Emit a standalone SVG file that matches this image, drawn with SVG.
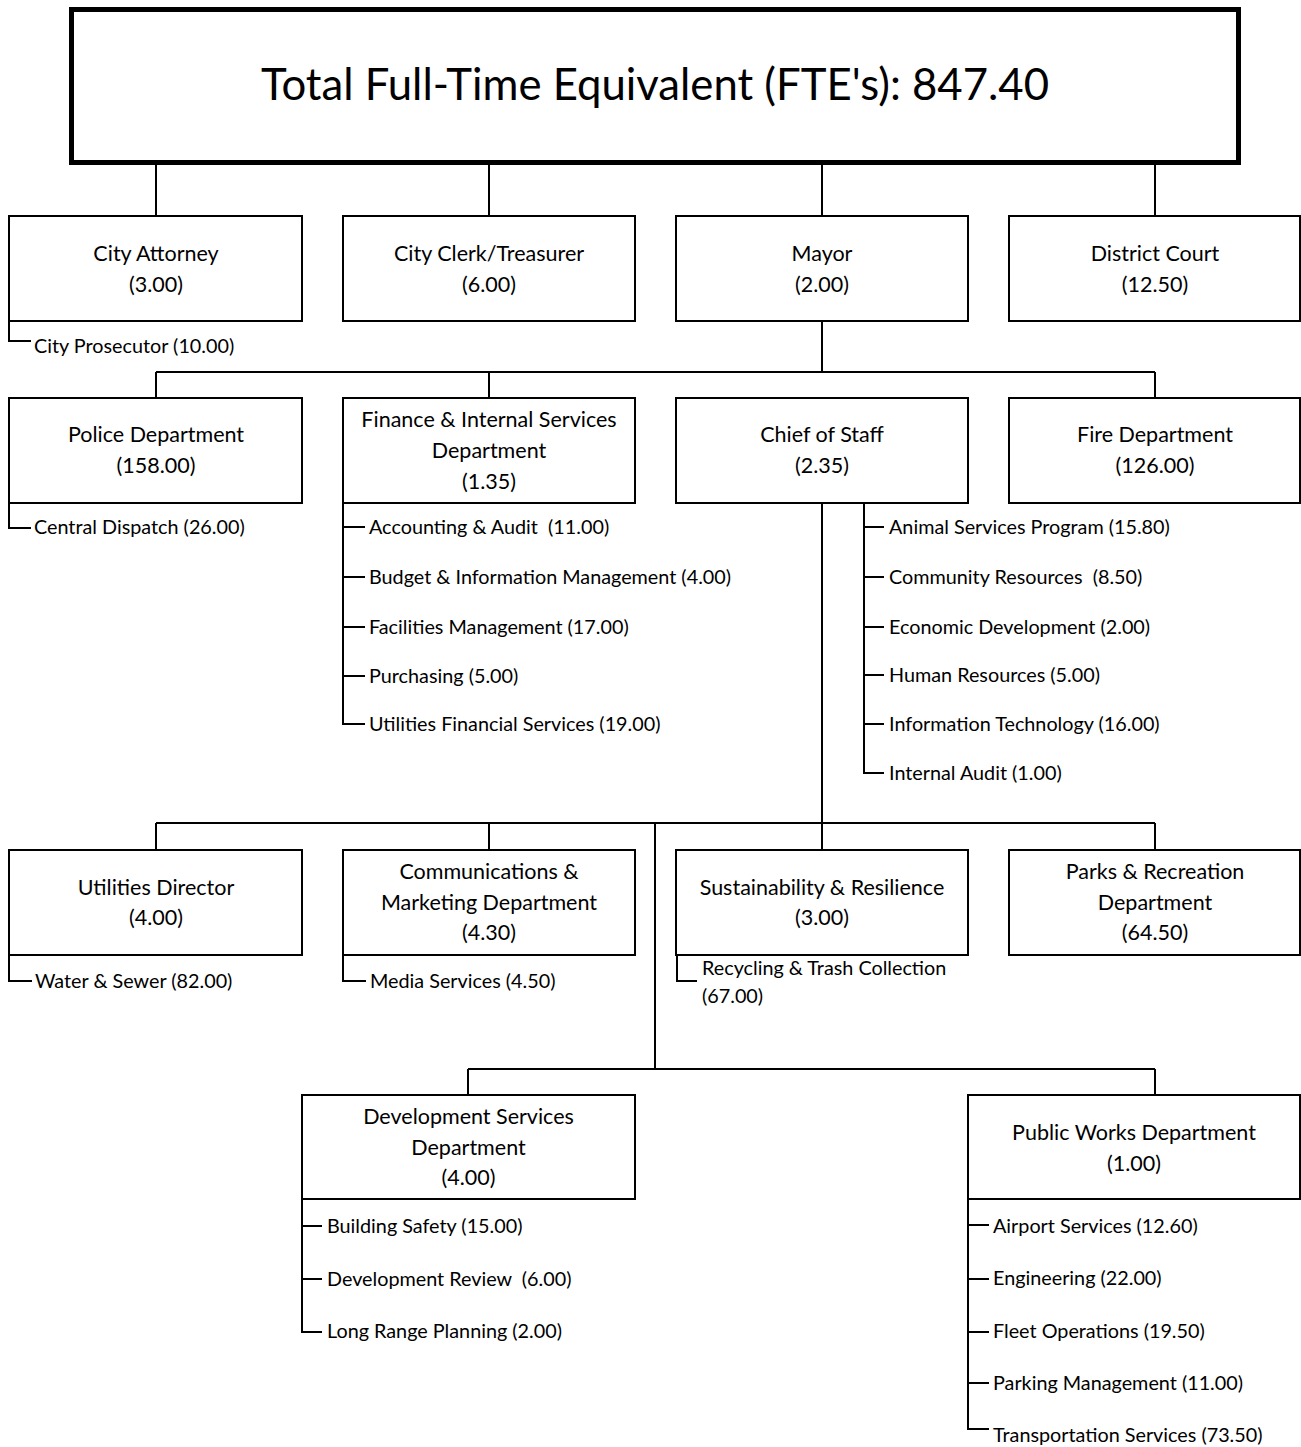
<svg xmlns="http://www.w3.org/2000/svg" width="1301" height="1447" viewBox="0 0 1301 1447">
  <style>
    .bg { fill: #ffffff; }
    .box { fill: #ffffff; stroke: #000000; stroke-width: 2; }
    .top { fill: #ffffff; stroke: #000000; stroke-width: 5; }
    .conn { fill: none; stroke: #000000; stroke-width: 2; }
    text { font-family: "Lato", "Open Sans", "Liberation Sans", sans-serif; fill: #000000; }
    .title { font-size: 43.7px; text-anchor: middle; }
    .lbl { font-size: 21.5px; text-anchor: middle; }
    .sub { font-size: 19.8px; }
  </style>

  <rect class="bg" x="0" y="0" width="1301" height="1447"/>

  <!-- connectors -->
  <g id="connectors">
    <!-- total to first row -->
    <path class="conn" d="M156,165 V216 M489,165 V216 M822,165 V216 M1155,165 V216"/>
    <!-- mayor to second row -->
    <path class="conn" d="M822,321 V372 M156,372 H1155 M156,372 V398 M489,372 V398 M1155,372 V398"/>
    <!-- chief of staff to third and fourth rows -->
    <path class="conn" d="M822,503 V850 M156,823 H1155 M156,823 V850 M489,823 V850 M1155,823 V850"/>
    <path class="conn" d="M655,823 V1069 M468,1069 H1155 M468,1069 V1095 M1155,1069 V1095"/>
    <!-- sub-unit brackets -->
    <path class="conn" d="M9,321 V341 H31"/>
    <path class="conn" d="M9,503 V528 H31"/>
    <path class="conn" d="M343,503 V724 H365 M343,527 H365 M343,577 H365 M343,627 H365 M343,676 H365"/>
    <path class="conn" d="M864,503 V773 H884 M864,527 H884 M864,577 H884 M864,627 H884 M864,675 H884 M864,724 H884"/>
    <path class="conn" d="M9,955 V981 H32"/>
    <path class="conn" d="M343,955 V981 H366"/>
    <path class="conn" d="M677,955 V981 H697"/>
    <path class="conn" d="M302,1199 V1332 H322 M302,1226 H322 M302,1279 H322"/>
    <path class="conn" d="M968,1199 V1429 H989 M968,1225 H989 M968,1279 H989 M968,1332 H989 M968,1383 H989"/>
  </g>

  <!-- total -->
  <g id="total">
    <rect class="top" x="71.5" y="9.5" width="1167" height="153"/>
    <text class="title" x="655" y="100">Total Full-Time Equivalent (FTE's): 847.40</text>
  </g>

  <!-- first row -->
  <g id="city-attorney">
    <rect class="box" x="9" y="216" width="293" height="105"/>
    <text class="lbl" x="156" y="261">City Attorney</text>
    <text class="lbl" x="156" y="292">(3.00)</text>
    <text class="sub" x="34" y="353">City Prosecutor (10.00)</text>
  </g>
  <g id="city-clerk">
    <rect class="box" x="343" y="216" width="292" height="105"/>
    <text class="lbl" x="489" y="261">City Clerk/Treasurer</text>
    <text class="lbl" x="489" y="292">(6.00)</text>
  </g>
  <g id="mayor">
    <rect class="box" x="676" y="216" width="292" height="105"/>
    <text class="lbl" x="822" y="261">Mayor</text>
    <text class="lbl" x="822" y="292">(2.00)</text>
  </g>
  <g id="district-court">
    <rect class="box" x="1009" y="216" width="291" height="105"/>
    <text class="lbl" x="1155" y="261">District Court</text>
    <text class="lbl" x="1155" y="292">(12.50)</text>
  </g>

  <!-- second row -->
  <g id="police">
    <rect class="box" x="9" y="398" width="293" height="105"/>
    <text class="lbl" x="156" y="442">Police Department</text>
    <text class="lbl" x="156" y="473">(158.00)</text>
    <text class="sub" x="34" y="534">Central Dispatch (26.00)</text>
  </g>
  <g id="finance">
    <rect class="box" x="343" y="398" width="292" height="105"/>
    <text class="lbl" x="489" y="427">Finance &amp; Internal Services</text>
    <text class="lbl" x="489" y="458">Department</text>
    <text class="lbl" x="489" y="489">(1.35)</text>
    <text class="sub" x="369" y="534" xml:space="preserve">Accounting &amp; Audit  (11.00)</text>
    <text class="sub" x="369" y="584">Budget &amp; Information Management (4.00)</text>
    <text class="sub" x="369" y="634">Facilities Management (17.00)</text>
    <text class="sub" x="369" y="683">Purchasing (5.00)</text>
    <text class="sub" x="369" y="731">Utilities Financial Services (19.00)</text>
  </g>
  <g id="chief-of-staff">
    <rect class="box" x="676" y="398" width="292" height="105"/>
    <text class="lbl" x="822" y="442">Chief of Staff</text>
    <text class="lbl" x="822" y="473">(2.35)</text>
    <text class="sub" x="889" y="534">Animal Services Program (15.80)</text>
    <text class="sub" x="889" y="584" xml:space="preserve">Community Resources  (8.50)</text>
    <text class="sub" x="889" y="634">Economic Development (2.00)</text>
    <text class="sub" x="889" y="682">Human Resources (5.00)</text>
    <text class="sub" x="889" y="731">Information Technology (16.00)</text>
    <text class="sub" x="889" y="780">Internal Audit (1.00)</text>
  </g>
  <g id="fire">
    <rect class="box" x="1009" y="398" width="291" height="105"/>
    <text class="lbl" x="1155" y="442">Fire Department</text>
    <text class="lbl" x="1155" y="473">(126.00)</text>
  </g>

  <!-- third row -->
  <g id="utilities-director">
    <rect class="box" x="9" y="850" width="293" height="105"/>
    <text class="lbl" x="156" y="895">Utilities Director</text>
    <text class="lbl" x="156" y="925">(4.00)</text>
    <text class="sub" x="35" y="988">Water &amp; Sewer (82.00)</text>
  </g>
  <g id="communications">
    <rect class="box" x="343" y="850" width="292" height="105"/>
    <text class="lbl" x="489" y="879">Communications &amp;</text>
    <text class="lbl" x="489" y="910">Marketing Department</text>
    <text class="lbl" x="489" y="940">(4.30)</text>
    <text class="sub" x="370" y="988">Media Services (4.50)</text>
  </g>
  <g id="sustainability">
    <rect class="box" x="676" y="850" width="292" height="105"/>
    <text class="lbl" x="822" y="895">Sustainability &amp; Resilience</text>
    <text class="lbl" x="822" y="925">(3.00)</text>
    <text class="sub" x="702" y="975">Recycling &amp; Trash Collection</text>
    <text class="sub" x="702" y="1003">(67.00)</text>
  </g>
  <g id="parks">
    <rect class="box" x="1009" y="850" width="291" height="105"/>
    <text class="lbl" x="1155" y="879">Parks &amp; Recreation</text>
    <text class="lbl" x="1155" y="910">Department</text>
    <text class="lbl" x="1155" y="940">(64.50)</text>
  </g>

  <!-- fourth row -->
  <g id="development-services">
    <rect class="box" x="302" y="1095" width="333" height="104"/>
    <text class="lbl" x="468.5" y="1124">Development Services</text>
    <text class="lbl" x="468.5" y="1155">Department</text>
    <text class="lbl" x="468.5" y="1185">(4.00)</text>
    <text class="sub" x="327" y="1233">Building Safety (15.00)</text>
    <text class="sub" x="327" y="1286" xml:space="preserve">Development Review  (6.00)</text>
    <text class="sub" x="327" y="1338">Long Range Planning (2.00)</text>
  </g>
  <g id="public-works">
    <rect class="box" x="968" y="1095" width="332" height="104"/>
    <text class="lbl" x="1134" y="1140">Public Works Department</text>
    <text class="lbl" x="1134" y="1171">(1.00)</text>
    <text class="sub" x="993" y="1233">Airport Services (12.60)</text>
    <text class="sub" x="993" y="1285">Engineering (22.00)</text>
    <text class="sub" x="993" y="1338">Fleet Operations (19.50)</text>
    <text class="sub" x="993" y="1390">Parking Management (11.00)</text>
    <text class="sub" x="993" y="1442">Transportation Services (73.50)</text>
  </g>
</svg>
